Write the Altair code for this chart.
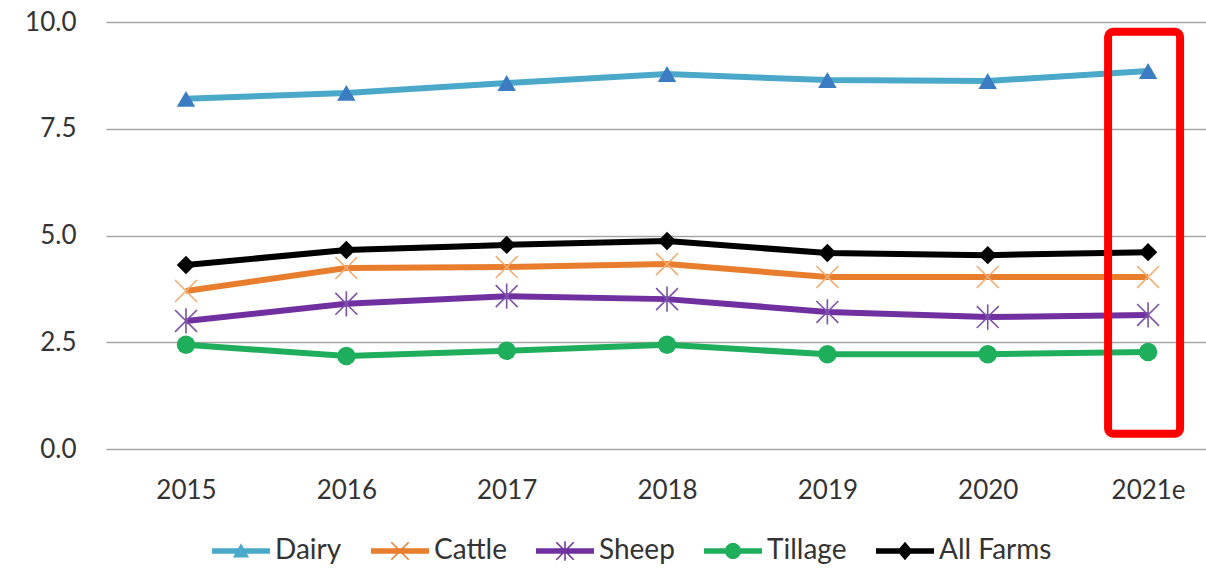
import altair as alt
import pandas as pd

# ---- data -------------------------------------------------------------
years = ["2015", "2016", "2017", "2018", "2019", "2020", "2021e"]
series = ["Dairy", "Cattle", "Sheep", "Tillage", "All Farms"]

dairy = [8.20, 8.34, 8.57, 8.78, 8.64, 8.62, 8.85]
cattle = [3.70, 4.24, 4.26, 4.33, 4.03, 4.03, 4.03]
sheep = [3.00, 3.40, 3.58, 3.51, 3.21, 3.09, 3.14]
tillage = [2.44, 2.18, 2.30, 2.44, 2.22, 2.22, 2.27]
all_farms = [4.31, 4.66, 4.78, 4.87, 4.59, 4.54, 4.61]

# highlighted (estimated) year and the vertical extent of its frame
highlight_year = ["2021e"]
highlight_top = [9.77]
highlight_bottom = [0.36]

# ---- styling ------------------------------------------------------------
line_colors = ["#4aa8c9", "#e87d2e", "#7030a0", "#1fae5c", "#000000"]
marker_colors = ["#3b7cc2", "#f2ad72", "#7b52aa", "#1fae5c", "#000000"]
FONT = "Lato"
TEXT = "#333333"
GRID = "#a6a6a6"

values_by_series = [dairy, cattle, sheep, tillage, all_farms]
df = pd.DataFrame(
    [
        {"year": y, "series": s, "value": v}
        for s, vals in zip(series, values_by_series)
        for y, v in zip(years, vals)
    ]
)
box_df = pd.DataFrame(
    {"year": highlight_year, "top": highlight_top, "bottom": highlight_bottom}
)


# ---- legend glyphs: a short thick line with the series marker on it ------
def poly(points):
    area = sum(
        points[i][0] * points[(i + 1) % len(points)][1]
        - points[(i + 1) % len(points)][0] * points[i][1]
        for i in range(len(points))
    )
    if area < 0:
        points = points[::-1]
    return "M" + "L".join(f"{x:.3f},{y:.3f}" for x, y in points) + "Z"


def bar_segment(h=0.095):
    return poly([(-1, -h), (1, -h), (1, h), (-1, h)])


def diag(a, t, flip=False):
    d = t / (2 * 2 ** 0.5)
    if not flip:
        pts = [(-a + d, -a - d), (a + d, a - d), (a - d, a + d), (-a - d, -a + d)]
    else:
        pts = [(-a + d, a + d), (a + d, -a + d), (a - d, -a - d), (-a - d, a - d)]
    return poly(pts)


def circle(r, n=28):
    import math
    return poly([(r * math.cos(2 * math.pi * k / n), r * math.sin(2 * math.pi * k / n)) for k in range(n)])


seg = bar_segment()
legend_paths = [
    seg + poly([(-0.28, 0.22), (0.0, -0.27), (0.28, 0.22)]),
    seg + diag(0.3, 0.055) + diag(0.3, 0.055, True),
    seg + diag(0.3, 0.055) + diag(0.3, 0.055, True) + poly([(-0.026, -0.34), (0.026, -0.34), (0.026, 0.34), (-0.026, 0.34)]),
    seg + circle(0.28),
    seg + poly([(0.0, -0.32), (0.27, 0.0), (0.0, 0.32), (-0.27, 0.0)]),
]

# ---- shared scales / axes -------------------------------------------------
x_scale = alt.Scale(type="point", domain=years, padding=0.43, align=0.58)
y_scale = alt.Scale(domain=[0, 10], nice=False, zero=True)
x_axis = alt.Axis(
    title=None, labelAngle=0, domain=False, ticks=False, tickSize=0,
    labelPadding=28, labelFont=FONT, labelFontSize=26, labelColor=TEXT, grid=False,
)
y_axis = alt.Axis(
    title=None, values=[0, 2.5, 5, 7.5, 10], format=".1f", domain=False,
    ticks=False, tickSize=0, labelPadding=30, labelFont=FONT, labelFontSize=26,
    labelColor=TEXT, grid=True, gridColor=GRID, gridWidth=1.5,
)

X = alt.X("year:N", scale=x_scale, axis=x_axis, sort=years)
Y = alt.Y("value:Q", scale=y_scale, axis=y_axis)

base = alt.Chart(df)

lines = base.mark_line(strokeWidth=6).encode(
    x=X, y=Y,
    color=alt.Color("series:N", scale=alt.Scale(domain=series, range=line_colors), legend=None),
    detail="series:N",
)

filled_series = ["Dairy", "Tillage", "All Farms"]
filled_pts = base.transform_filter(
    alt.FieldOneOfPredicate(field="series", oneOf=filled_series)
).mark_point(filled=True, opacity=1, size=340).encode(
    x=X, y=Y,
    color=alt.Color("series:N", scale=alt.Scale(domain=filled_series,
                    range=[marker_colors[0], marker_colors[3], marker_colors[4]]), legend=None),
    shape=alt.Shape("series:N", scale=alt.Scale(domain=filled_series,
                    range=["triangle-up", "circle", "diamond"]), legend=None),
)

open_series = ["Cattle", "Sheep"]
open_pts = base.transform_filter(
    alt.FieldOneOfPredicate(field="series", oneOf=open_series)
).mark_point(filled=False, opacity=1, strokeWidth=1.6, size=480).encode(
    x=X, y=Y,
    color=alt.Color("series:N", scale=alt.Scale(domain=open_series,
                    range=[marker_colors[1], marker_colors[2]]), legend=None),
    shape=alt.Shape("series:N", scale=alt.Scale(domain=open_series,
                    range=["M-1,-1L1,1M-1,1L1,-1", "M-1,-1L1,1M-1,1L1,-1M0,-1.15L0,1.15"]), legend=None),
)

legend = alt.Legend(
    title=None, orient="none", legendX=106, legendY=500, direction="horizontal",
    columns=5, symbolSize=3364, symbolStrokeWidth=0, labelFont=FONT,
    labelFontSize=28, labelColor=TEXT, labelOffset=5, columnPadding=29, padding=0,
)
legend_layer = base.transform_filter("false").mark_point(filled=True, opacity=1).encode(
    color=alt.Color("series:N", scale=alt.Scale(domain=series, range=line_colors), legend=legend),
    shape=alt.Shape("series:N", scale=alt.Scale(domain=series, range=legend_paths), legend=legend),
)

frame = alt.Chart(box_df).mark_rect(
    filled=False, stroke="#ff0000", strokeWidth=8, cornerRadius=5, width=72, xOffset=-4
).encode(
    x=alt.X("year:N", scale=x_scale, axis=x_axis, sort=years),
    y=alt.Y("top:Q", scale=y_scale, axis=y_axis),
    y2="bottom:Q",
)

chart = (
    alt.layer(lines, filled_pts, open_pts, frame, legend_layer)
    .resolve_scale(color="independent", shape="independent")
    .properties(
        width=1100, height=427,
        autosize=alt.AutoSizeParams(type="none"),
        padding={"left": 106, "top": 22, "right": 0, "bottom": 122},
        background="white",
    )
    .configure_view(stroke=None)
)

chart.save("out.html", embed_options={"renderer": "svg", "actions": False})
